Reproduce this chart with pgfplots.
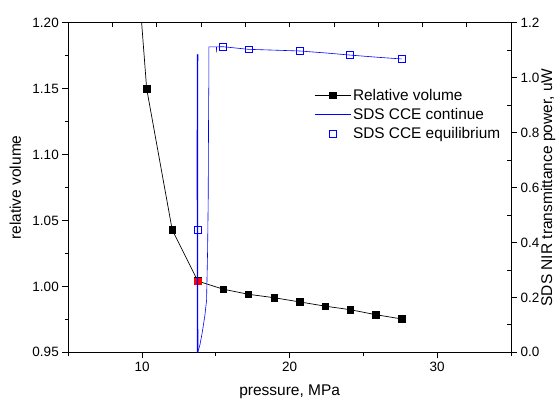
\documentclass[border=0pt]{standalone}
\usepackage{fontspec}
\setmainfont{Liberation Sans}
\usepackage{pgfplots}
\pgfplotsset{compat=1.18}
\definecolor{nirblue}{RGB}{0,0,255}
\begin{document}
\begin{tikzpicture}
\useasboundingbox (-68.3pt,-46.7pt) rectangle (487.7pt,352.3pt);
\begin{axis}[
  at={(0pt,0pt)}, anchor=south west,
  scale only axis, width=442.7pt, height=329.6pt,
  xmin=5, xmax=35, ymin=0.95, ymax=1.20,
  axis x line*=bottom, axis y line*=left,
  axis line style={line width=1pt},
  xtick={10,20,30}, minor xtick={5,15,25,35},
  ytick={0.95,1.00,1.05,1.10,1.15,1.20},
  minor ytick={0.975,1.025,1.075,1.125,1.175},
  tick align=outside,
  major tick length=6pt, minor tick length=3.5pt,
  every tick/.append style={black, line width=0.8pt},
  /pgf/number format/assume math mode=true,
  yticklabel style={/pgf/number format/.cd, fixed, fixed zerofill, precision=2},
  tick label style={font=\fontsize{13.5}{15}\selectfont},
  label style={font=\fontsize{15.5}{18}\selectfont},
  xlabel={pressure, MPa}, ylabel={relative volume},
  xlabel style={at={(axis description cs:0.5,0)}, anchor=center, yshift=-39pt},
  ylabel style={at={(axis description cs:0,0.5)}, anchor=center, yshift=53pt},
]
\addplot[black, line width=0.7pt, mark=square*, mark size=3.3pt, mark options={solid, fill=black}] coordinates {
 (9.2,1.313) (10.31,1.150) (12.04,1.043) (13.78,1.004) (15.52,0.9978) (17.21,0.9940)
 (18.95,0.9914) (20.69,0.9882) (22.41,0.9850) (24.12,0.9823) (25.85,0.9785) (27.59,0.9753)
};
\addplot[only marks, mark=square*, mark size=3.3pt, red, mark options={fill=red}] coordinates {(13.78,1.004)};
\end{axis}
% top ticks and right minor ticks, pointing inward (box axis)
\begin{axis}[
  at={(0pt,0pt)}, anchor=south west,
  scale only axis, width=442.7pt, height=329.6pt,
  xmin=5, xmax=35, ymin=0, ymax=1.2,
  axis line style={line width=1pt},
  xtick={8,11,14,17,20,23,26,29,32}, xticklabels={},
  ytick={0.1,0.3,0.5,0.7,0.9,1.1}, yticklabels={},
  xtick pos=right, ytick pos=right,
  tick align=inside,
  major tick length=4pt,
  every tick/.append style={black, line width=0.8pt},
]
\end{axis}
\begin{axis}[
  at={(0pt,0pt)}, anchor=south west,
  scale only axis, width=442.7pt, height=329.6pt,
  xmin=5, xmax=35, ymin=0, ymax=1.2,
  axis x line*=top, axis y line*=right,
  axis line style={line width=1pt},
  xtick=\empty,
  ytick={0,0.2,0.4,0.6,0.8,1.0,1.2},
  tick align=outside,
  major tick length=6pt,
  every tick/.append style={black, line width=0.8pt},
  /pgf/number format/assume math mode=true,
  yticklabel style={/pgf/number format/.cd, fixed, fixed zerofill, precision=1},
  tick label style={font=\fontsize{13.5}{15}\selectfont},
  label style={font=\fontsize{15.5}{18}\selectfont},
  ylabel={SDS NIR transmittance power, uW},
  ylabel style={at={(axis description cs:1,0.5)}, anchor=center, yshift=-37pt},
  legend style={at={(0.553,0.808)}, anchor=north west, draw=none, fill=none,
    font=\fontsize{15.4}{17}\selectfont, row sep=2.5pt, inner sep=1pt},
  legend cell align=left,
  legend image code/.code={\draw[mark repeat=2,mark phase=2,#1] plot coordinates {(0pt,0pt) (18pt,0pt) (36pt,0pt)};},
]
\addlegendimage{black, line width=0.7pt, mark=square*, mark size=3.3pt, mark options={solid, fill=black}}
\addlegendentry{Relative volume}
\addplot[color=nirblue, line width=0.6pt] coordinates {
 (27.59,1.068) (26.0,1.074) (24.12,1.082) (22.4,1.090) (20.69,1.097) (19.0,1.100)
 (17.23,1.103) (15.49,1.1125) (15.1,1.112) (15.05,1.112) (15.05,1.092) (15.04,1.112)
 (14.53,1.112) (14.53,1.0) (14.51,0.918) (14.48,0.554) (14.44,0.372) (14.37,0.19)
 (14.26,0.136) (14.07,0.07) (13.92,0.027) (13.80,0.005) (13.76,0.0)
 (13.755,0.3) (13.75,0.7) (13.755,1.0) (13.76,1.085)
};
\addlegendentry{SDS CCE continue}
\addplot[color=nirblue, line width=1.4pt, forget plot] coordinates {
 (13.76,0.0) (13.755,0.3) (13.75,0.7) (13.755,1.0) (13.76,1.085)
};
\addplot[only marks, mark=square, mark size=3.3pt, nirblue, mark options={fill=white, line width=0.8pt}] coordinates {
 (13.78,0.446) (15.49,1.1125) (17.23,1.103) (20.69,1.097) (24.10,1.082) (27.59,1.068)
};
\addlegendentry{SDS CCE equilibrium}
\end{axis}
\end{tikzpicture}
\end{document}
